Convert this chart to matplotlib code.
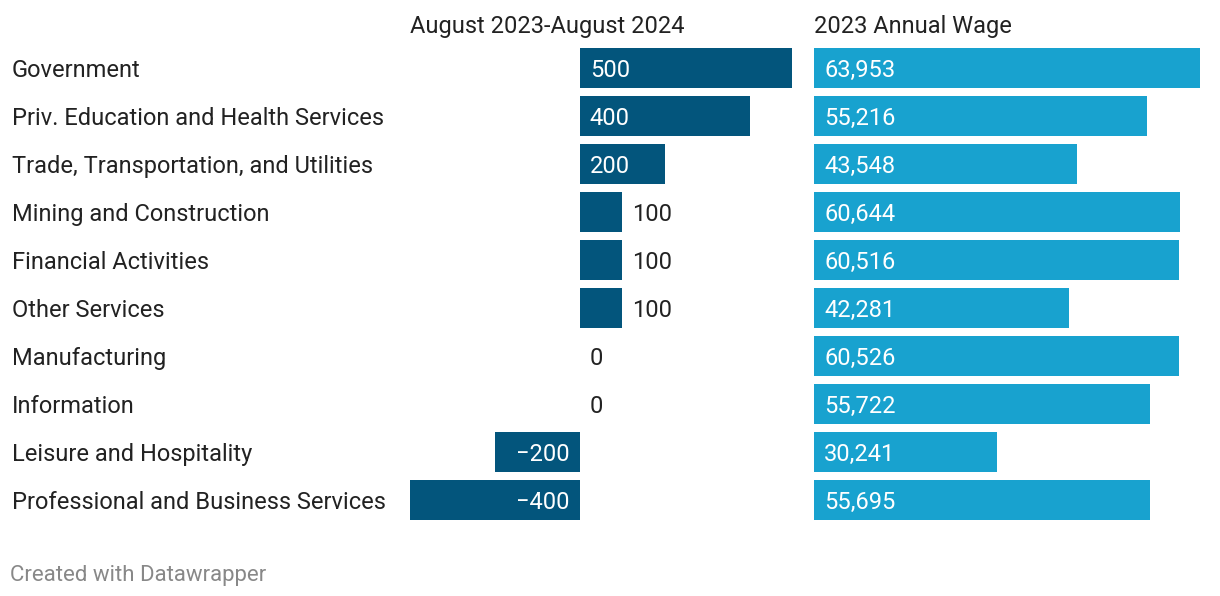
import matplotlib
matplotlib.use("Agg")
import matplotlib.pyplot as plt

# data
industries = [
    "Government",
    "Priv. Education and Health Services",
    "Trade, Transportation, and Utilities",
    "Mining and Construction",
    "Financial Activities",
    "Other Services",
    "Manufacturing",
    "Information",
    "Leisure and Hospitality",
    "Professional and Business Services",
]
job_change = [500, 400, 200, 100, 100, 100, 0, 0, -200, -400]
annual_wage = [63953, 55216, 43548, 60644, 60516, 42281, 60526, 55722, 30241, 55695]

DARK = "#03557c"
LIGHT = "#18a2cf"
TEXT = "#222222"
FS = 17

plt.rcParams["font.family"] = ["Roboto", "DejaVu Sans"]

W, H = 1220, 596
fig = plt.figure(figsize=(W / 100, H / 100), dpi=100)


def px_axes(x0, x1, y0, y1):
    return fig.add_axes([x0 / W, 1 - y1 / H, (x1 - x0) / W, (y1 - y0) / H])


rows = list(range(len(industries)))
ax1 = px_axes(410, 794, 44, 524)
ax2 = px_axes(814, 1200, 44, 524)

for ax in (ax1, ax2):
    ax.set_ylim(len(industries) - 0.5, -0.5)
    ax.axis("off")

ax1.set_xlim(-400, 504)
ax1.barh(rows, job_change, height=0.833, color=DARK)
for i, v in zip(rows, job_change):
    label = f"\u2212{abs(v)}" if v < 0 else f"{v}"
    off = 10 * 904 / 384  # 10 px in data units
    if v >= 200:
        ax1.text(off, i, label, color="white", va="center_baseline", ha="left", fontsize=FS)
    elif v < 0:
        ax1.text(-off, i, label, color="white", va="center_baseline", ha="right", fontsize=FS)
    else:
        ax1.text(v + off, i, label, color=TEXT, va="center_baseline", ha="left", fontsize=FS)

ax2.set_xlim(0, 63953)
ax2.barh(rows, annual_wage, height=0.833, color=LIGHT)
for i, v in zip(rows, annual_wage):
    ax2.text(10 * 63953 / 386, i, f"{v:,}", color="white", va="center_baseline",
             ha="left", fontsize=FS)

for i, name in zip(rows, industries):
    y = 68 + 48 * i
    fig.text(12 / W, 1 - y / H, name, color=TEXT, va="center_baseline", ha="left", fontsize=FS)

fig.text(410 / W, 1 - 24 / H, "August 2023-August 2024", color=TEXT,
         va="center_baseline", ha="left", fontsize=FS)
fig.text(814 / W, 1 - 24 / H, "2023 Annual Wage", color=TEXT,
         va="center_baseline", ha="left", fontsize=FS)
fig.text(10 / W, 1 - 573 / H, "Created with Datawrapper", color="#888888",
         va="center_baseline", ha="left", fontsize=16)

fig.savefig("out.png", dpi=100, facecolor="white")
